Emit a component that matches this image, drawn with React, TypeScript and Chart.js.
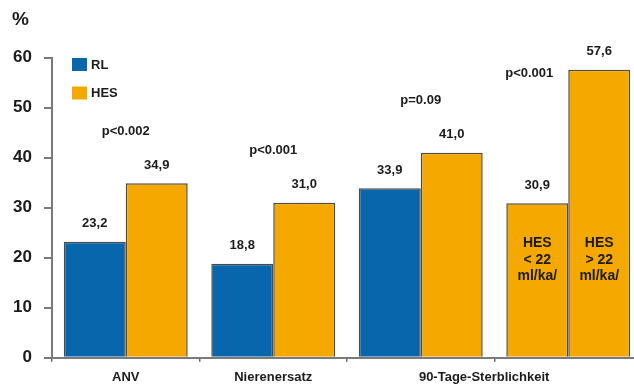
import { useEffect, useRef } from "react";
import { Chart, registerables } from "chart.js";

Chart.register(...registerables);

// Outcome categories along the x axis (the last group is split by HES dose)
const categories = ["ANV", "Nierenersatz", "90-Tage-Sterblichkeit", ""];
// Event rates in %
const rlValues = [23.2, 18.8, 33.9];
const hesValues = [34.9, 31.0, 41.0];
// 90-day mortality by cumulative HES dose
const hesDoseValues = [30.9, 57.6];
const hesDoseLabels = [
  ["HES", "< 22", "ml/ka/"],
  ["HES", "> 22", "ml/ka/"],
];
const pValues = ["p<0.002", "p<0.001", "p=0.09", "p<0.001"];
const seriesNames = ["RL", "HES"];

const BLUE = "#0866ad";
const ORANGE = "#f5a800";
const TEXT = "#1b1b1b";
const AXIS = "#7a7a7a";
const FONT = '"Liberation Sans", Arial, Helvetica, sans-serif';

const fmt = (v: number) => v.toFixed(1).replace(".", ",");

const overlayPlugin = {
  id: "overlay",
  afterDraw(chart: any) {
    const ctx = chart.ctx as CanvasRenderingContext2D;
    const xs = chart.scales.x;
    const ys = chart.scales.y;
    const m0 = chart.getDatasetMeta(0).data;
    const m1 = chart.getDatasetMeta(1).data;
    ctx.save();
    ctx.fillStyle = TEXT;

    // unit label
    ctx.font = `bold 19px ${FONT}`;
    ctx.textAlign = "left";
    ctx.textBaseline = "middle";
    ctx.fillText("%", 12, 20);

    // legend
    const legendColors = [BLUE, ORANGE];
    ctx.font = `bold 13px ${FONT}`;
    seriesNames.forEach((name, i) => {
      const y = 58 + i * 28.5;
      ctx.fillStyle = legendColors[i];
      ctx.fillRect(72, y, 15, 13);
      ctx.fillStyle = TEXT;
      ctx.fillText(name, 91, y + 7);
    });

    // value labels above bars
    ctx.textAlign = "center";
    const allValues = [
      [...rlValues, hesDoseValues[0]],
      [...hesValues, hesDoseValues[1]],
    ];
    [m0, m1].forEach((els, d) => {
      els.forEach((el: any, i: number) => {
        ctx.fillText(fmt(allValues[d][i]), el.x, el.y - 18);
      });
    });

    // p values
    pValues.forEach((p, i) => {
      if (i < 3) {
        const top = Math.max(allValues[0][i], allValues[1][i]);
        ctx.fillText(p, xs.getPixelForValue(i), ys.getPixelForValue(top + 10.4));
      } else {
        ctx.fillText(p, m0[i].x - 8, m1[i].y + 4);
      }
    });

    // dose labels inside the split HES bars
    ctx.font = `bold 14px ${FONT}`;
    const lineTop = m0[3].y + 40;
    [m0[3], m1[3]].forEach((el: any, k: number) => {
      hesDoseLabels[k].forEach((line, j) => {
        ctx.fillText(line, el.x, lineTop + j * 16.5);
      });
    });

    // category labels
    ctx.font = `bold 13px ${FONT}`;
    categories.forEach((c, i) => {
      if (!c) return;
      let x = xs.getPixelForValue(i);
      if (i === 2) x += (xs.getPixelForValue(3) - x) * 0.43;
      ctx.fillText(c, x, 377);
    });
    ctx.restore();
  },
};

export default function App() {
  const canvasRef = useRef<HTMLCanvasElement | null>(null);

  useEffect(() => {
    if (!canvasRef.current) return;
    const chart = new Chart(canvasRef.current, {
      type: "bar",
      data: {
        labels: categories,
        datasets: [
          {
            label: seriesNames[0],
            data: [...rlValues, hesDoseValues[0]],
            backgroundColor: [BLUE, BLUE, BLUE, ORANGE],
            borderColor: "#4d4a44",
            borderWidth: 1.5,
            categoryPercentage: 0.84,
            barPercentage: 1,
          },
          {
            label: seriesNames[1],
            data: [...hesValues, hesDoseValues[1]],
            backgroundColor: ORANGE,
            borderColor: "#4d4a44",
            borderWidth: 1.5,
            categoryPercentage: 0.84,
            barPercentage: 1,
          },
        ],
      },
      options: {
        responsive: false,
        maintainAspectRatio: false,
        animation: false,
        devicePixelRatio: 1,
        layout: { padding: { top: 57.7, left: 0, right: 0, bottom: 0 } },
        plugins: {
          legend: { display: false },
          tooltip: { enabled: false },
        },
        scales: {
          x: {
            offset: true,
            grid: {
              offset: true,
              drawOnChartArea: false,
              drawTicks: true,
              tickLength: 4,
              color: "#666",
              lineWidth: 1.5,
            },
            border: { display: true, color: AXIS, width: 2 },
            ticks: { display: false },
            afterFit: (s: any) => {
              s.height = 27.3;
            },
          },
          y: {
            min: 0,
            max: 60,
            ticks: {
              stepSize: 10,
              padding: 12,
              color: TEXT,
              font: { family: FONT, size: 17, weight: "bold" },
            },
            grid: {
              drawOnChartArea: false,
              drawTicks: true,
              tickLength: 8,
              color: AXIS,
              lineWidth: 2,
            },
            border: { display: true, color: AXIS, width: 2 },
            afterFit: (s: any) => {
              s.width = 52;
            },
          },
        },
      },
      plugins: [overlayPlugin],
    });
    return () => chart.destroy();
  }, []);

  return (
    <div
      style={{
        position: "absolute",
        left: 0,
        top: 0,
        width: 634,
        height: 385,
        overflow: "hidden",
        background: "#fff",
      }}
    >
      <canvas ref={canvasRef} width={642} height={385} style={{ display: "block" }} />
    </div>
  );
}
